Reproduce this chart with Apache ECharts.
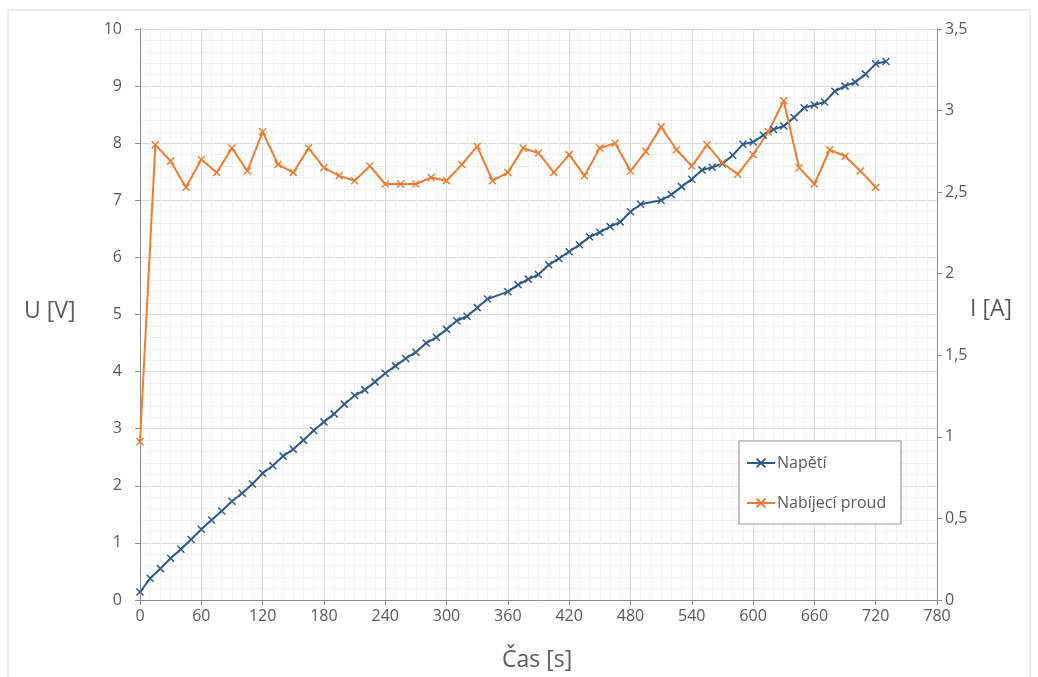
<!DOCTYPE html>
<html>
<head>
<meta charset="utf-8">
<script src="https://cdn.jsdelivr.net/npm/echarts@6/dist/echarts.min.js"></script>
<style>
html,body{margin:0;padding:0;background:#fff;}
#chart{width:1038px;height:677px;}
</style>
</head>
<body>
<div id="chart"></div>
<script>
// Napětí (U) – time [s] and voltage [V]
var timeU = [0,10,20,30,40,50,60,70,80,90,100,110,120,130,140,150,160,170,180,190,200,210,220,230,240,250,260,270,280,290,300,310,320,330,340,360,370,380,390,400,410,420,430,440,450,460,470,480,490,510,520,530,540,550,560,570,580,590,600,610,620,630,640,650,660,670,680,690,700,710,720,730];
var voltage = [0.14,0.38,0.55,0.73,0.89,1.06,1.24,1.40,1.56,1.73,1.87,2.03,2.22,2.35,2.52,2.64,2.80,2.97,3.12,3.26,3.43,3.58,3.68,3.82,3.97,4.10,4.23,4.34,4.50,4.60,4.74,4.89,4.97,5.12,5.27,5.40,5.52,5.62,5.70,5.87,5.98,6.10,6.22,6.36,6.44,6.54,6.62,6.80,6.93,7.00,7.10,7.24,7.37,7.53,7.58,7.64,7.79,7.98,8.02,8.14,8.24,8.30,8.45,8.62,8.67,8.72,8.91,9.00,9.07,9.21,9.39,9.43];
// Nabíjecí proud (I) – time [s] and current [A]
var timeI = [0,15,30,45,60,75,90,105,120,135,150,165,180,195,210,225,240,255,270,285,300,315,330,345,360,375,390,405,420,435,450,465,480,495,510,525,540,555,570,585,600,615,630,645,660,675,690,705,720];
var current = [0.97,2.79,2.69,2.53,2.70,2.62,2.77,2.63,2.87,2.67,2.62,2.77,2.65,2.60,2.57,2.66,2.55,2.55,2.55,2.59,2.57,2.67,2.78,2.57,2.62,2.77,2.74,2.62,2.73,2.60,2.77,2.80,2.63,2.75,2.90,2.76,2.66,2.79,2.68,2.61,2.73,2.87,3.06,2.65,2.55,2.76,2.72,2.63,2.53];
var xTicks = {min: 0, max: 780, step: 60};
var yLeftTicks = {min: 0, max: 10, step: 1};
var yRightTicks = {min: 0, max: 3.5, step: 0.5};
var names = {u: 'Napětí', i: 'Nabíjecí proud', x: 'Čas [s]', yl: 'U [V]', yr: 'I [A]'};

var BLUE = '#2e5b8c', ORANGE = '#ed7d31', TXT = '#595959';
var FONT = 'Open Sans';
var xSym = 'path://M0,0L10,10M10,0L0,10';

function zip(a, b) { return a.map(function (v, i) { return [v, b[i]]; }); }
function comma(v) { return String(v).replace('.', ','); }

var chart = echarts.init(document.getElementById('chart'), null, {renderer: 'canvas'});
chart.setOption({
  animation: false,
  backgroundColor: '#fff',
  textStyle: {fontFamily: FONT},
  grid: {left: 140, right: 101, top: 29, bottom: 77, containLabel: false},
  xAxis: {
    type: 'value', min: xTicks.min, max: xTicks.max, interval: xTicks.step,
    axisLine: {show: true, onZero: false, lineStyle: {color: '#8c8c8c', width: 1}},
    axisTick: {show: true, length: 5, lineStyle: {color: '#8c8c8c'}},
    axisLabel: {color: TXT, fontSize: 16, margin: 8, fontFamily: FONT},
    splitLine: {show: true, lineStyle: {color: '#d9d9d9', width: 1}},
    minorTick: {show: false, splitNumber: 6},
    minorSplitLine: {show: true, lineStyle: {color: '#efefef', width: 1}}
  },
  yAxis: [{
    type: 'value', position: 'left', min: yLeftTicks.min, max: yLeftTicks.max, interval: yLeftTicks.step,
    axisLine: {show: true, lineStyle: {color: '#8c8c8c', width: 1}},
    axisTick: {show: true, length: 5, lineStyle: {color: '#8c8c8c'}},
    axisLabel: {color: TXT, fontSize: 16, margin: 18, fontFamily: FONT},
    splitLine: {show: true, lineStyle: {color: '#d9d9d9', width: 1}},
    minorTick: {show: false, splitNumber: 5},
    minorSplitLine: {show: true, lineStyle: {color: '#efefef', width: 1}}
  }, {
    type: 'value', position: 'right', min: yRightTicks.min, max: yRightTicks.max, interval: yRightTicks.step,
    axisLine: {show: true, lineStyle: {color: '#8c8c8c', width: 1}},
    axisTick: {show: true, length: 5, lineStyle: {color: '#8c8c8c'}},
    axisLabel: {color: TXT, fontSize: 16, margin: 8, fontFamily: FONT, formatter: comma},
    splitLine: {show: false}
  }],
  legend: {
    left: 741, top: 450, orient: 'vertical',
    itemWidth: 28, itemHeight: 11, itemGap: 24,
    textStyle: {color: TXT, fontSize: 16, fontFamily: FONT, padding: [0, 0, 0, -3]},
    data: [names.u, names.i], z: 10
  },
  graphic: [
    {type: 'rect', z: -10, silent: true, shape: {x: 8, y: 10, width: 1022, height: 700}, style: {fill: 'none', stroke: '#d9d9d9', lineWidth: 1}},
    {type: 'rect', z: 5, silent: true, shape: {x: 739, y: 441, width: 162, height: 83}, style: {fill: '#fff', stroke: '#9a9a9a', lineWidth: 1.2}},
    {type: 'text', left: 24, top: 300, style: {text: names.yl, fill: TXT, fontSize: 23, fontFamily: FONT}},
    {type: 'text', left: 970, top: 298, style: {text: names.yr, fill: TXT, fontSize: 23, fontFamily: FONT}},
    {type: 'text', left: 502, top: 649, style: {text: names.x, fill: TXT, fontSize: 23, fontFamily: FONT}}
  ],
  series: [{
    name: names.u, type: 'line', yAxisIndex: 0, data: zip(timeU, voltage),
    symbol: xSym, symbolSize: 7,
    lineStyle: {color: BLUE, width: 2},
    itemStyle: {color: BLUE, borderColor: BLUE, borderWidth: 1.5}
  }, {
    name: names.i, type: 'line', yAxisIndex: 1, data: zip(timeI, current),
    symbol: xSym, symbolSize: 7,
    lineStyle: {color: ORANGE, width: 2},
    itemStyle: {color: ORANGE, borderColor: ORANGE, borderWidth: 1.5}
  }]
});
</script>
</body>
</html>
